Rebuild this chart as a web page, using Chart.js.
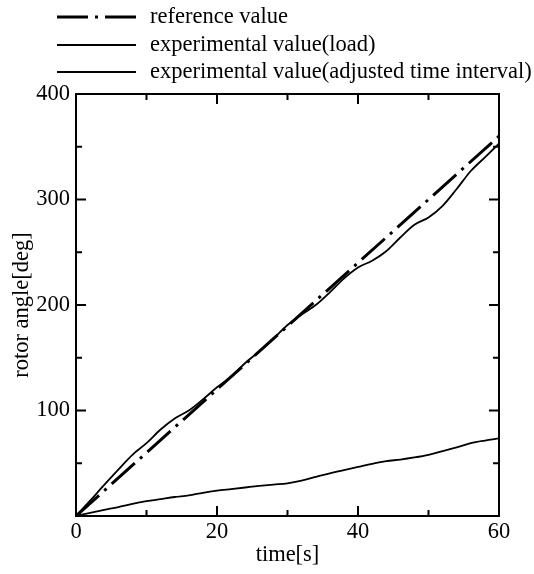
<!DOCTYPE html>
<html>
<head>
<meta charset="utf-8">
<script src="https://cdn.jsdelivr.net/npm/chart.js@4.4.0/dist/chart.umd.min.js"></script>
<style>
  html, body { margin: 0; padding: 0; background: #fff; }
  #wrap { width: 534px; height: 574px; }
</style>
</head>
<body>
<div id="wrap"><canvas id="mycanvas" width="534" height="574"></canvas></div>
<script>
// reference value (straight line)
var refTime = [0, 60];
var refAngle = [0, 360];

// experimental value (load)
var loadTime = [0, 2, 4, 6, 8, 10, 12, 14, 16, 18, 20, 22, 24, 26, 28, 30,
                32, 34, 36, 38, 40, 42, 44, 46, 48, 50, 52, 54, 56, 58, 60];
var loadAngle = [0, 14.5, 29.5, 44, 58, 69, 82, 92.5, 100, 110.5, 122, 132, 145, 156, 168, 181,
                 191, 200, 212, 225, 235.5, 242, 251, 264, 276, 283, 294, 310, 327, 340, 353];

// experimental value (adjusted time interval)
var adjTime = [0, 2, 4, 6, 8, 10, 12, 14, 16, 18, 20, 22, 24, 26, 28, 30,
               32, 34, 36, 38, 40, 42, 44, 46, 48, 50, 52, 54, 56, 58, 60];
var adjAngle = [0, 3, 5.8, 8.5, 11.5, 14, 16, 18, 19.5, 22, 24, 25.5, 27, 28.5, 29.8, 31,
                33.5, 37, 40.5, 43.5, 46.5, 49.5, 52, 53.5, 55.5, 58, 61.5, 65, 69, 71.5, 73.5];

var seriesNames = ['reference value', 'experimental value(load)', 'experimental value(adjusted time interval)'];

var xTicks = [0, 20, 40, 60];
var yTicks = [100, 200, 300, 400];

function pts(xs, ys) {
	var out = [];
	for (var i in xs) {
		out.push({x: xs[i], y: ys[i]});
	}
	return out;
}

var FONT = 'Liberation Serif';
var FSIZE = 22.5;

// frame, inward ticks and the legend at the top
var framePlugin = {
	id: 'frame',
	afterDraw: function(chart) {
		var ctx = chart.ctx;
		var a = chart.chartArea;
		var xs = chart.scales.x, ys = chart.scales.y;
		ctx.save();
		ctx.strokeStyle = '#000';
		ctx.lineWidth = 2;
		ctx.strokeRect(a.left, a.top, a.right - a.left, a.bottom - a.top);

		ctx.beginPath();
		for (var v = 10; v < 60; v += 10) {
			var len = (v % 20 == 0) ? 10 : 6;
			var px = xs.getPixelForValue(v);
			ctx.moveTo(px, a.bottom); ctx.lineTo(px, a.bottom - len);
			ctx.moveTo(px, a.top); ctx.lineTo(px, a.top + len);
		}
		for (var w = 50; w < 400; w += 50) {
			var len2 = (w % 100 == 0) ? 10 : 6;
			var py = ys.getPixelForValue(w);
			ctx.moveTo(a.left, py); ctx.lineTo(a.left + len2, py);
			ctx.moveTo(a.right, py); ctx.lineTo(a.right - len2, py);
		}
		ctx.stroke();

		// legend
		var rows = [17, 45, 72];
		chart.data.datasets.forEach(function(ds, i) {
			ctx.beginPath();
			ctx.lineWidth = ds.borderWidth;
			ctx.setLineDash(ds.borderDash || []);
			ctx.moveTo(57, rows[i]);
			ctx.lineTo(136, rows[i]);
			ctx.stroke();
			ctx.setLineDash([]);
			ctx.fillStyle = '#000';
			ctx.font = FSIZE + 'px "' + FONT + '"';
			ctx.textBaseline = 'middle';
			ctx.fillText(ds.label, 150, rows[i]);
		});
		ctx.restore();
	}
};

var ctx = document.getElementById('mycanvas');

var chart = new Chart(ctx, {
	type: 'line',
	data: {
		datasets: [
			{
				label: seriesNames[0],
				data: pts(refTime, refAngle),
				borderColor: '#000',
				borderWidth: 3,
				borderDash: [31, 7, 3, 7],
				pointRadius: 0,
				tension: 0
			},
			{
				label: seriesNames[1],
				data: pts(loadTime, loadAngle),
				borderColor: '#000',
				borderWidth: 1.8,
				pointRadius: 0,
				cubicInterpolationMode: 'monotone'
			},
			{
				label: seriesNames[2],
				data: pts(adjTime, adjAngle),
				borderColor: '#000',
				borderWidth: 1.8,
				pointRadius: 0,
				cubicInterpolationMode: 'monotone'
			}
		]
	},
	options: {
		responsive: false,
		animation: false,
		devicePixelRatio: 1,
		layout: { padding: { top: 94, right: 35, left: 0, bottom: 0 } },
		plugins: {
			legend: { display: false },
			tooltip: { enabled: false }
		},
		scales: {
			x: {
				type: 'linear',
				min: 0, max: 60,
				afterBuildTicks: function(s) { s.ticks = xTicks.map(function(v) { return {value: v}; }); },
				afterFit: function(s) { s.height = 58; },
				grid: { display: false, drawTicks: false },
				border: { display: false },
				ticks: {
					color: '#000',
					padding: 3,
					maxRotation: 0,
					font: { family: FONT, size: FSIZE }
				},
				title: {
					display: true,
					text: 'time[s]',
					color: '#000',
					padding: { top: 0, bottom: 5 },
					font: { family: FONT, size: FSIZE }
				}
			},
			y: {
				type: 'linear',
				min: 0, max: 400,
				afterBuildTicks: function(s) { s.ticks = yTicks.map(function(v) { return {value: v}; }); },
				afterFit: function(s) { s.width = 76; },
				grid: { display: false, drawTicks: false },
				border: { display: false },
				ticks: {
					color: '#000',
					padding: 6,
					font: { family: FONT, size: FSIZE }
				},
				title: {
					display: true,
					text: 'rotor angle[deg]',
					color: '#000',
					padding: { top: 9, bottom: 0 },
					font: { family: FONT, size: FSIZE }
				}
			}
		}
	},
	plugins: [framePlugin]
});
</script>
</body>
</html>
